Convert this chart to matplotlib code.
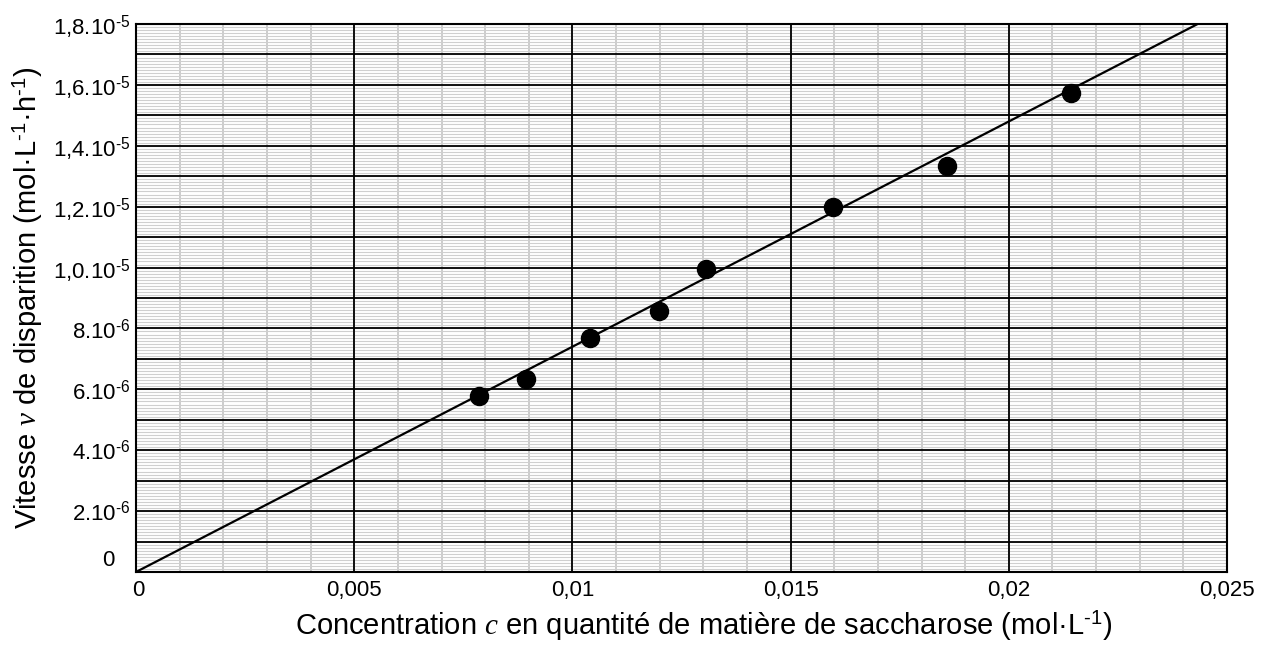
import numpy as np
import matplotlib
matplotlib.use("Agg")
import matplotlib.pyplot as plt
from matplotlib.transforms import ScaledTranslation

plt.rcParams['font.family'] = ['Liberation Sans', 'DejaVu Sans']
plt.rcParams['mathtext.fontset'] = 'custom'
plt.rcParams['mathtext.rm'] = 'Liberation Sans'
plt.rcParams['mathtext.it'] = 'Liberation Serif:italic'

# mesures
c = [0.00786, 0.00894, 0.01040, 0.01198, 0.01306, 0.01597, 0.01858, 0.02143]
v = [5.78e-6, 6.34e-6, 7.69e-6, 8.57e-6, 9.95e-6, 1.199e-5, 1.334e-5, 1.573e-5]

# droite modele v = k.c
k = 7.40e-4
c_line = [0.0, 0.025]

x_ticks = [0, 0.005, 0.01, 0.015, 0.02, 0.025]
x_labels = ['0', '0,005', '0,01', '0,015', '0,02', '0,025']
y_ticks = [0, 2e-6, 4e-6, 6e-6, 8e-6, 1.0e-5, 1.2e-5, 1.4e-5, 1.6e-5, 1.8e-5]
y_labels = ['0', r'2.10$^{\text{-}6}$', r'4.10$^{\text{-}6}$', r'6.10$^{\text{-}6}$', r'8.10$^{\text{-}6}$',
            r'1,0.10$^{\text{-}5}$', r'1,2.10$^{\text{-}5}$', r'1,4.10$^{\text{-}5}$',
            r'1,6.10$^{\text{-}5}$', r'1,8.10$^{\text{-}5}$']

fig = plt.figure(figsize=(12.75, 6.46), dpi=100)
ax = fig.add_axes([0.1067, 0.1146, 0.8557, 0.8482])

ax.set_xlim(0, 0.025)
ax.set_ylim(0, 1.8e-5)

# papier millimetre
for xm in np.arange(0, 0.02501, 0.001):
    ax.axvline(xm, color='#c8c8c8', lw=1.3, zorder=1)
for ym in np.arange(0, 1.8e-5 + 1e-9, 1e-7):
    ax.axhline(ym, color='#cfcfcf', lw=0.8, zorder=1)
for xM in x_ticks:
    ax.axvline(xM, color='black', lw=1.3, zorder=2)
for yM in np.arange(0, 1.8e-5 + 1e-9, 1e-6):
    ax.axhline(yM, color='black', lw=1.3, zorder=2)

ax.plot([c_line[0], c_line[1]], [k * c_line[0], k * c_line[1]], color='black', lw=1.6, zorder=3)
ax.plot(c, v, 'o', color='black', markersize=13, zorder=4)

ax.set_xticks(x_ticks)
ax.set_xticklabels(x_labels)
ax.set_yticks(y_ticks)
ax.set_yticklabels(y_labels)
ax.tick_params(axis='x', length=0, labelsize=16, pad=6)
ax.tick_params(axis='y', length=0, labelsize=16, pad=4)

# "0" de l'axe des ordonnees decale
lab0 = ax.get_yticklabels()[0]
lab0.set_transform(lab0.get_transform() + ScaledTranslation(-0.16, 0.14, fig.dpi_scale_trans))
labx0 = ax.get_xticklabels()[0]
labx0.set_transform(labx0.get_transform() + ScaledTranslation(0.02, 0, fig.dpi_scale_trans))

for s in ax.spines.values():
    s.set_linewidth(1.5)
    s.set_zorder(5)

ax.set_xlabel("Concentration $c$ en quantité de matière de saccharose (mol·L$^{\\text{-}1}$)", fontsize=21)
ax.set_ylabel("Vitesse $v$ de disparition (mol·L$^{\\text{-}1}$·h$^{\\text{-}1}$)", fontsize=21, labelpad=6)
ax.xaxis.set_label_coords(0.52, -0.068)

plt.savefig('out.png', dpi=100)
